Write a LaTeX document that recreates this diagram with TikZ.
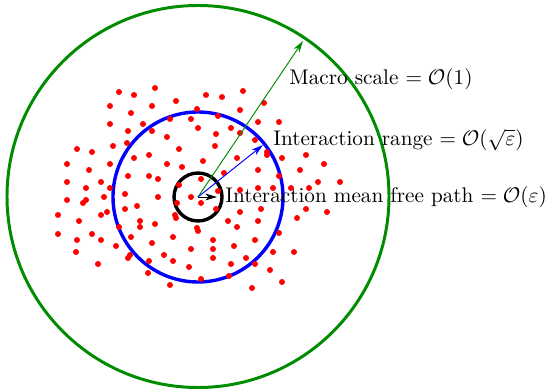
\documentclass[tikz,border=0pt]{standalone}
\usetikzlibrary{arrows.meta}
\definecolor{dgreen}{RGB}{0,140,0}
\begin{document}
\begin{tikzpicture}[x=0.4717pt,y=-0.4717pt,
  dot/.style={fill=red, draw=none},
  ring/.style={line width=1.6pt},
  ray/.style={line width=0.45pt,-{Stealth[length=5.5pt,width=3.2pt,inset=1.6pt]}},
  lbl/.style={anchor=base west, inner sep=0pt}]
\useasboundingbox (0,0) rectangle (548,391);
\coordinate (c) at (198,197);
\coordinate (gtip) at (303,41);
\coordinate (btip) at (263,145);
\coordinate (ktip) at (217,197);
% circles
\draw[dgreen, line width=1.4pt] (198,196.5) circle[radius=191];
\draw[ring, blue] (c) circle[radius=85];
\draw[ring, black] (c) circle[radius=24];
% particles
\foreach \px/\py in {
119/92,134/95,155/88,206/95,110/106,131/113,152/106,176/101,197/109,110/124,
128/131,143/124,152/131,170/119,191/119,198/128,216/134,167/137,179/149,113/146,
127/143,77/149,92/152,67/164,89/170,110/164,134/158,149/155,167/164,182/167,
203/161,215/146,67/182,86/188,101/182,110/188,128/176,149/176,158/179,201/179,
179/185,
67/200,83/203,86/200,104/197,125/194,158/197,191/197,201/203,177/203,58/215,
79/221,101/215,107/212,125/209,137/206,119/227,140/221,140/227,155/224,175/215,
176/218,197/228,198/231,216/209,58/234,77/240,92/234,101/240,116/246,131/237,
152/243,173/237,76/252,98/264,128/258,130/255,149/261,164/255,173/261,191/249,
213/240,213/249,213/258,189/267,148/273,201/279,170/285,
240/190,258/188,273/188,291/188,309/188,318/182,340/182,218/191,240/212,261/209,
306/209,327/212,297/218,228/221,258/221,237/227,279/233,234/246,255/240,273/252,
294/252,246/258,255/264,231/264,270/270,229/276,282/282,252/288,
222/97,243/91,264/103,240/110,218/116,258/122,279/122,231/128,240/133,255/140,
267/152,267/155,282/158,306/155,258/170,224/173,300/170,324/164,279/176,237/158}
  \fill[dot] (\px,\py) circle[radius=3];
% rays
\draw[ray, dgreen] (c) -- (gtip);
\draw[ray, blue] (c) -- (btip);
\draw[ray, black] (c) -- (ktip);
% labels
\node[lbl] (macro) at (289,85) {Macro scale $= \mathcal{O}(1)$};
\node[lbl] (range) at (273,146) {Interaction range $= \mathcal{O}(\sqrt{\varepsilon})$};
\node[lbl] (mfp) at (225,203) {Interaction mean free path $= \mathcal{O}(\varepsilon)$};
\end{tikzpicture}
\end{document}
